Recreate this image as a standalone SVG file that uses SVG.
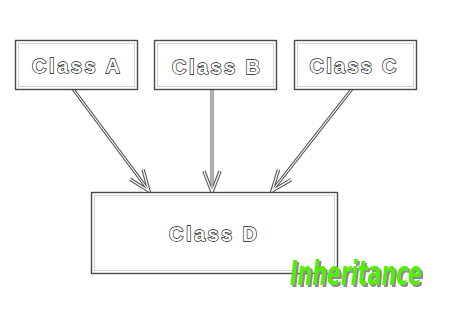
<svg xmlns="http://www.w3.org/2000/svg" width="450" height="320" viewBox="0 0 450 320">
  <defs>
    <style>
      .frame { fill: #ffffff; stroke: #4a4a4a; stroke-width: 1.4; }
      .inner { fill: none; stroke: #d0d0d0; stroke-width: 1; }
      .label { font-family: "Liberation Sans", Arial, sans-serif; font-weight: bold; font-size: 20px; fill: #ffffff; stroke: #111111; stroke-width: 1.3; text-anchor: middle; paint-order: stroke; }
      .wire-out { fill: none; stroke: #555555; stroke-width: 3; stroke-linecap: round; }
      .wire-in { fill: none; stroke: #ffffff; stroke-width: 1.1; stroke-linecap: round; }
      .title { font-family: "DejaVu Sans", sans-serif; font-weight: bold; font-style: italic; font-stretch: condensed; font-size: 33px; fill: #55ee00; }
    </style>
    <filter id="shade" filterUnits="userSpaceOnUse" x="280" y="250" width="160" height="50">
      <feDropShadow dx="2" dy="2" stdDeviation="0.3" flood-color="#8a8a8a" flood-opacity="1"/>
    </filter>
    <marker id="head" markerUnits="userSpaceOnUse" markerWidth="30" markerHeight="30" viewBox="-22 -12 26 24" refX="0" refY="0" orient="auto">
      <path d="M-18,-7 L0,0 L-18,7" fill="none" stroke="#555" stroke-width="3" stroke-linejoin="miter"/>
      <path d="M-18,-7 L0,0 L-18,7" fill="none" stroke="#fff" stroke-width="1.1"/>
    </marker>
  </defs>
  <rect width="450" height="320" fill="#ffffff"/>

  <!-- connectors: each subclass edge to Class D -->
  <g id="connectors">
    <path class="wire-out" d="M73,89 L149,191" marker-end="url(#head)"/>
    <path class="wire-in" d="M73,89 L149,191"/>
    <path class="wire-out" d="M212,89 L212,192" marker-end="url(#head)"/>
    <path class="wire-in" d="M212,89 L212,192"/>
    <path class="wire-out" d="M352,89 L272,191" marker-end="url(#head)"/>
    <path class="wire-in" d="M352,89 L272,191"/>
  </g>

  <g id="class-a">
    <rect class="frame" x="15.5" y="40.5" width="122" height="49"/>
    <rect class="inner" x="18.5" y="43.5" width="116" height="43"/>
    <text class="label" x="76" y="73" textLength="88" lengthAdjust="spacing">Class A</text>
  </g>
  <g id="class-b">
    <rect class="frame" x="154.5" y="40.5" width="122" height="49"/>
    <rect class="inner" x="157.5" y="43.5" width="116" height="43"/>
    <text class="label" x="216" y="74" textLength="88" lengthAdjust="spacing">Class B</text>
  </g>
  <g id="class-c">
    <rect class="frame" x="294.5" y="40.5" width="122" height="49"/>
    <rect class="inner" x="297.5" y="43.5" width="116" height="43"/>
    <text class="label" x="353" y="73" textLength="87" lengthAdjust="spacing">Class C</text>
  </g>
  <g id="class-d">
    <rect class="frame" x="91.5" y="192.5" width="246" height="81"/>
    <rect class="inner" x="94.5" y="195.5" width="240" height="75"/>
    <text class="label" x="213" y="241" textLength="88" lengthAdjust="spacing">Class D</text>
  </g>

  <g id="caption">
    <text class="title" x="290" y="285" textLength="132" lengthAdjust="spacingAndGlyphs" filter="url(#shade)">Inheritance</text>
  </g>
</svg>
